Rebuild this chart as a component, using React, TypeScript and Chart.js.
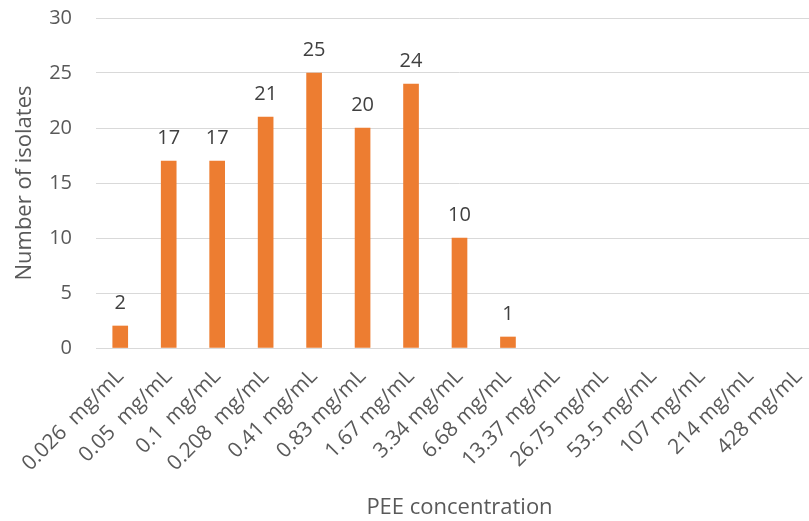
import React, { useEffect, useRef } from "react";
import { Chart, registerables } from "chart.js";

Chart.register(...registerables);

const categories = [
  "0.026  mg/mL",
  "0.05  mg/mL",
  "0.1  mg/mL",
  "0.208  mg/mL",
  "0.41 mg/mL",
  "0.83 mg/mL",
  "1.67 mg/mL",
  "3.34 mg/mL",
  "6.68 mg/mL",
  "13.37 mg/mL",
  "26.75 mg/mL",
  "53.5 mg/mL",
  "107 mg/mL",
  "214 mg/mL",
  "428 mg/mL",
];
const isolates = [2, 17, 17, 21, 25, 20, 24, 10, 1, 0, 0, 0, 0, 0, 0];
const yTicks = [0, 5, 10, 15, 20, 25, 30];

const FONT = "'Open Sans', sans-serif";

const valueLabels = {
  id: "valueLabels",
  afterDatasetsDraw(chart: any) {
    const ctx = chart.ctx;
    const meta = chart.getDatasetMeta(0);
    const data = chart.data.datasets[0].data as number[];
    ctx.save();
    ctx.font = `20px ${FONT}`;
    ctx.fillStyle = "#404040";
    ctx.textAlign = "center";
    ctx.textBaseline = "alphabetic";
    meta.data.forEach((el: any, i: number) => {
      const v = data[i];
      if (!v) return;
      ctx.fillText(String(v), el.x, el.y - 17);
    });
    ctx.restore();
  },
};

export default function App() {
  const ref = useRef<HTMLCanvasElement>(null);
  useEffect(() => {
    document.body.style.margin = "0";
    const chart = new Chart(ref.current!, {
      type: "bar",
      data: {
        labels: categories,
        datasets: [
          {
            data: isolates,
            backgroundColor: (c: any) =>
              c.raw ? "#ED7D31" : "rgba(0,0,0,0)",
            borderWidth: 0,
            barThickness: 15,
          },
        ],
      },
      options: {
        animation: false,
        responsive: false,
        layout: { padding: { top: 18, right: 0, bottom: 0, left: 0 } },
        plugins: {
          legend: { display: false },
          tooltip: { enabled: false },
        },
        scales: {
          x: {
            grid: { display: false, drawTicks: false },
            border: { display: true, color: "#d9d9d9", width: 1 },
            ticks: {
              color: "#595959",
              font: { family: FONT, size: 21 },
              minRotation: 45,
              maxRotation: 45,
              autoSkip: false,
              padding: 16,
            },
            title: {
              display: true,
              text: "PEE concentration",
              color: "#595959",
              font: { family: FONT, size: 22 },
              padding: { top: 0, bottom: 0 },
            },
            afterFit(scale: any) {
              scale.height = 173;
              scale.paddingLeft = 0;
              scale.paddingRight = 0;
              scale.paddingTop = 0;
              scale.paddingBottom = 0;
            },
          },
          y: {
            min: 0,
            max: 30,
            afterBuildTicks(scale: any) {
              scale.ticks = yTicks.map((v) => ({ value: v }));
            },
            grid: { color: "#d9d9d9", lineWidth: 1, drawTicks: false },
            border: { display: false },
            ticks: {
              color: "#595959",
              font: { family: FONT, size: 20 },
              padding: 24,
            },
            title: {
              display: true,
              text: "Number of isolates",
              color: "#595959",
              font: { family: FONT, size: 22 },
              padding: { top: 12, bottom: 0 },
            },
            afterFit(scale: any) {
              scale.width = 96;
              scale.paddingTop = 0;
              scale.paddingBottom = 0;
            },
          },
        },
      },
      plugins: [valueLabels],
    });
    return () => chart.destroy();
  }, []);
  return (
    <div
      style={{
        position: "fixed",
        left: 0,
        top: 0,
        width: 809,
        height: 521,
        overflow: "hidden",
        background: "#fff",
      }}
    >
      <canvas ref={ref} width={823} height={521} style={{ display: "block" }} />
    </div>
  );
}
